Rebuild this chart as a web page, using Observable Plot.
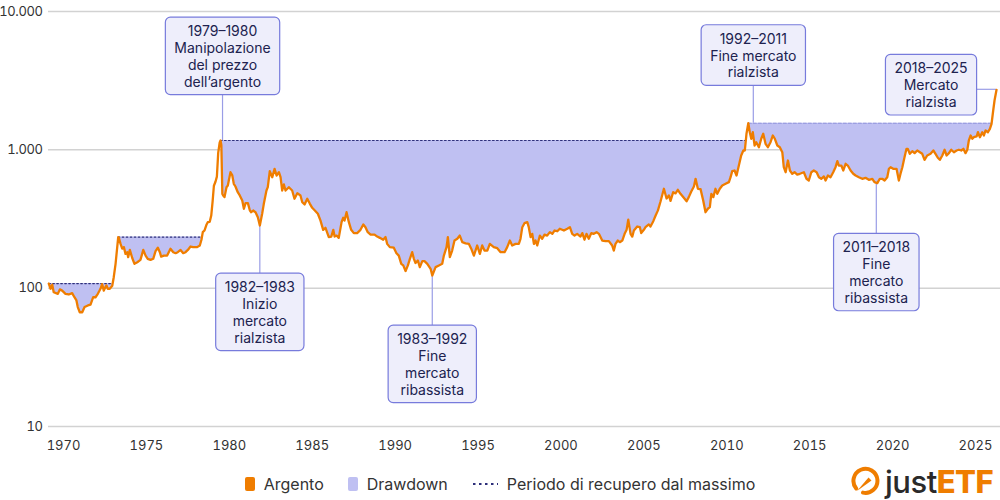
<!DOCTYPE html>
<html>
<head>
<meta charset="utf-8">
<script src="https://cdn.jsdelivr.net/npm/d3@7"></script>
<script src="https://cdn.jsdelivr.net/npm/@observablehq/plot@0.6"></script>
<style>
  body { margin: 0; background: #fff; font-family: Inter, "Noto Sans", sans-serif; }
  #chart { position: relative; width: 1000px; height: 500px; overflow: hidden; }
  #chart svg { display: block; }
  #chart svg g[aria-label="y-axis tick label"] text { letter-spacing: -0.4px; }
  .legend { position: absolute; left: 0; top: 473px; width: 1000px; height: 22px;
            display: flex; justify-content: center; align-items: center; gap: 24px;
            font-size: 16px; color: #333; }
  .legend .item { display: flex; align-items: center; gap: 9px; }
  .legend .sw { display: inline-block; width: 10px; height: 14px; border-radius: 2px; }
  .logo { position: absolute; left: 851px; top: 464px; display: flex; align-items: center; gap: 4px; }
  .logo .word { font-size: 31px; letter-spacing: -0.5px; line-height: 1; }
  .logo .just { color: #2a2a2a; font-weight: 500; }
  .logo .etf { color: #ef7d00; font-weight: 800; }
</style>
</head>
<body>
<div id="chart">
  <div class="legend">
    <span class="item"><i class="sw" style="background:#ef7d00"></i>Argento</span>
    <span class="item"><i class="sw" style="background:#bfc0f2"></i>Drawdown</span>
    <span class="item"><svg width="26" height="4"><line x1="1" y1="2" x2="26" y2="2" stroke="#2d2f7a" stroke-width="2" stroke-dasharray="2.5,3.5"/></svg>Periodo di recupero dal massimo</span>
  </div>
  <div class="logo">
    <svg width="30" height="34" viewBox="0 0 30 34">
      <path d="M5.2 24.5 A12 12 0 1 1 12 28.6" fill="none" stroke="#ef7d00" stroke-width="4" stroke-linecap="round"/>
      <path d="M17.5 13.5 L20.5 16.5 L6 27 Z" fill="#ef7d00"/>
    </svg>
    <span class="word"><span class="just">just</span><span class="etf">ETF</span></span>
  </div>
</div>
<script>
// Silver price index (start = ~100), time in decimal years
const years = [
  1969.11,1969.22,1969.32,1969.41,1969.66,1969.78,1969.92,1970.12,1970.32,1970.52,1970.66,1970.78,1970.86,1970.98,
  1971.13,1971.27,1971.47,1971.63,1971.79,1971.93,1972.07,1972.23,1972.33,1972.43,1972.53,1972.59,1972.67,1972.79,
  1972.94,1973.03,1973.14,1973.24,1973.30,
  1973.34,1973.44,1973.54,1973.64,1973.74,1973.84,1973.90,1974.00,1974.14,1974.28,1974.45,1974.64,1974.81,1974.95,
  1975.08,1975.25,1975.41,1975.55,1975.69,1975.81,1975.89,1976.05,1976.25,1976.45,1976.62,1976.76,1976.89,1977.06,
  1977.22,1977.36,1977.50,1977.66,1977.82,1978.06,1978.22,1978.32,1978.40,1978.50,1978.63,1978.70,1978.82,1978.91,
  1978.99,1979.07,1979.17,1979.25,1979.33,1979.42,1979.47,
  1979.52,1979.58,1979.63,1979.71,1979.83,1979.91,1979.99,1980.07,1980.18,1980.27,1980.37,1980.51,1980.63,1980.78,
  1980.88,1980.98,1981.12,1981.24,1981.32,1981.44,1981.58,1981.72,1981.84,1981.98,1982.08,1982.24,1982.32,1982.44,
  1982.59,1982.73,1982.85,1982.99,1983.09,1983.19,1983.29,1983.39,1983.59,1983.79,1983.93,1984.10,1984.29,1984.40,
  1984.54,1984.70,1984.86,1985.00,1985.20,1985.34,1985.50,1985.66,1985.80,1986.00,1986.15,1986.27,1986.35,1986.47,
  1986.60,1986.77,1986.87,1986.95,1987.07,1987.21,1987.35,1987.51,1987.71,1987.91,1988.08,1988.21,1988.35,1988.52,
  1988.76,1988.92,1989.08,1989.28,1989.42,1989.52,1989.68,1989.92,1990.08,1990.22,1990.37,1990.49,1990.63,1990.77,
  1990.89,1991.03,1991.13,1991.23,1991.37,1991.49,1991.64,1991.77,1991.94,1992.14,1992.24,1992.44,1992.64,1992.84,
  1992.94,1993.10,1993.18,1993.30,1993.44,1993.58,1993.75,1993.90,1994.05,1994.25,1994.45,1994.59,1994.75,1994.95,
  1995.11,1995.25,1995.39,1995.56,1995.71,1995.95,1996.16,1996.36,1996.60,1996.76,1996.92,1997.06,1997.26,1997.46,
  1997.56,1997.67,1997.80,1997.97,1998.06,1998.17,1998.27,1998.37,1998.47,1998.57,1998.73,1998.87,1999.01,1999.17,
  1999.33,1999.48,1999.61,1999.78,1999.93,2000.18,2000.38,2000.54,2000.68,2000.82,2000.98,2001.18,2001.29,2001.42,
  2001.54,2001.68,2001.83,2001.98,2002.15,2002.29,2002.49,2002.69,2002.89,2003.09,2003.19,2003.29,2003.43,2003.55,
  2003.70,2003.84,2003.96,2004.06,2004.20,2004.30,2004.40,2004.60,2004.76,2004.84,2005.00,2005.10,2005.30,2005.40,
  2005.57,2005.71,2005.85,2006.01,2006.21,2006.37,2006.51,2006.61,2006.77,2006.91,2007.05,2007.21,2007.41,2007.58,
  2007.71,2007.86,2008.02,2008.12,2008.26,2008.42,2008.58,2008.72,2008.86,2008.98,2009.07,2009.19,2009.32,2009.43,
  2009.58,2009.73,2009.93,2010.13,2010.23,2010.33,2010.47,2010.59,2010.73,2010.87,2011.00,2011.09,2011.19,2011.30,
  2011.39,2011.48,2011.57,2011.68,2011.78,2011.94,2012.08,2012.20,2012.34,2012.48,2012.64,2012.78,2012.90,2013.05,
  2013.20,2013.35,2013.44,2013.55,2013.69,2013.81,2013.95,2014.09,2014.25,2014.41,2014.65,2014.81,2014.95,2015.10,
  2015.25,2015.42,2015.56,2015.70,2015.86,2015.96,2016.10,2016.26,2016.42,2016.56,2016.67,2016.76,2016.91,2017.03,
  2017.17,2017.30,2017.47,2017.63,2017.77,2017.97,2018.17,2018.37,2018.57,2018.78,2018.91,2019.08,2019.23,2019.38,
  2019.52,2019.68,2019.78,2019.88,2020.04,2020.24,2020.38,2020.48,2020.59,2020.72,2020.84,2020.92,2021.04,2021.19,
  2021.33,2021.49,2021.65,2021.79,2021.93,2022.09,2022.29,2022.46,2022.59,2022.73,2022.85,2023.00,2023.14,2023.26,
  2023.40,2023.54,2023.70,2023.86,2024.00,2024.14,2024.27,2024.40,2024.51,2024.60,2024.71,2024.81,2024.90,2025.07,
  2025.15,2025.27,2025.41,2025.51,2025.61,2025.75,2025.87,2025.97,2026.07,2026.15,2026.27
];
const prices = [
  108,99,106,93.5,91,98,96,91,90,92,86,81.5,73,67,
  67,73,75,76,86,86,91,99,107,96,102,104.5,99,99,
  104,120,150,198,234,
  231,209,193,198,177,182,167.5,189,166,150,154,160,189,172,
  163,160,163,185,196,182,169,172,172,193,182,179,182,189,
  179,182,189,200,198,198,203.5,224,254,261,289,300,302,335,
  420,550,590,640,950,1130,1168,
  1080,480,468,455,537,552,618,689,653,568,543,494,468,430,
  375,412,412,364,354,364,354,326,284,345,407,508,537,701,
  634,729,652,689,634,508,562,508,537,508,443,486,468,418,
  403,443,407,381,360,345,308,264,273,234,236,264,236,240,
  231,300,323,308,354,300,264,250,250,264,289,276,254,244,
  244,236,231,224,234,209,198,196,179,172,150,146,133,146,
  163,182,163,152,158.5,142,157,157,150,138,123.5,142,146,150,
  172,198,234,167.5,187,221,227.5,240,215,211,209,193,172,203.5,
  177,203.5,187,187,209,198,194.5,182,182,198,221,203.5,209,209,
  227.5,276,295,300,276,234,247,209,221,203.5,240,227.5,244,240,
  254,247,261,258,269,261,269,276,247,240,247,236,250,224,
  247,227.5,250,247,254,247,221,219,219,203.5,187,209,221,215,
  221,247,264,313,247,236,261,279,276,250,264,276,289,279,
  305,335,365,425,523,445,468,428,494,484,514,481,450,425,
  455,500,543,617.5,523,520,430,354,375,385,481,455,523,481,
  523,552,568,584,634,701,709,652.5,770,910,989,989,1306,1558,
  1341,1202,1341,1075,1136,1045,1202,1306,1106,1045,1136,1270,1202,1075,
  1045,961,749,689,837,709,671,689,663,671,689,617.5,600,689,
  709,689,634,617.5,642,600,652.5,634,689,749,828,770,770,709,
  793,770,709,671,652.5,634,617.5,628,607,617.5,584,574,617.5,617.5,
  600,634,729,749,729,729,600,671,749,885,1017,1017,936,978,
  946,989,961,936,847,910,936,989,936,876,847,910,1001,910,
  946,1001,961,989,1001,989,1017,946,1001,1168,1270,1202,1234,1249,
  1341,1234,1341,1270,1380,1341,1419,1543,1925,2273,2716
];

const yearTicks = [1970, 1975, 1980, 1985, 1990, 1995, 2000, 2005, 2010, 2015, 2020, 2025];
const valueTicks = [10, 100, 1000, 10000];

// Annotated episodes: the year each note points at, and its text
const noteYears = [1979.47, 1981.84, 1992.24, 2011.30, 2019.08, 2026.27];
const noteTexts = [
  "1979–1980\nManipolazione\ndel prezzo\ndell’argento",
  "1982–1983\nInizio\nmercato\nrialzista",
  "1983–1992\nFine\nmercato\nribassista",
  "1992–2011\nFine mercato\nrialzista",
  "2011–2018\nFine\nmercato\nribassista",
  "2018–2025\nMercato\nrialzista"
];

// ---- derived series ----
const rows = years.map((x, i) => ({x, v: prices[i]}));

// Drawdown band (between price and running peak) and the running-peak
// segments shown while the price is below its previous high.
const band = [];
const recovery = [];
let peak = rows[0].v, peakX = rows[0].x, seg = -1, open = false;
band.push({x: rows[0].x, lo: peak, hi: peak});
for (let i = 1; i < rows.length; i++) {
  const {x, v} = rows[i];
  if (v >= peak) {
    if (open) {
      const p = rows[i - 1];
      const t = (Math.log(peak) - Math.log(p.v)) / (Math.log(v) - Math.log(p.v));
      const xc = p.x + t * (x - p.x);
      band.push({x: xc, lo: peak, hi: peak});
      recovery.push({x: xc, y: peak, seg});
      open = false;
    }
    peak = v; peakX = x;
    band.push({x, lo: v, hi: v});
  } else {
    if (!open) { seg++; open = true; recovery.push({x: peakX, y: peak, seg}); }
    band.push({x, lo: v, hi: peak});
    recovery.push({x, y: peak, seg});
  }
}
const lastSeg = seg;

const notes = noteYears.map((x, i) => ({x, y: prices[years.indexOf(x)], label: noteTexts[i]}));
// text offsets (px) of each note box relative to the point it refers to
const noteOffsets = [[2, -84.5], [0, 86.5], [0, 88.5], [5, -68], [-1, 89], [-65.5, -5]];

const itLocale = d3.formatLocale({decimal: ",", thousands: ".", grouping: [3], currency: ["", " €"]});
const fmtValue = itLocale.format(",d");

const ink = "#20224f";

const chart = Plot.plot({
  width: 1000,
  height: 460,
  marginLeft: 48,
  marginRight: 0,
  marginTop: 11,
  marginBottom: 34,
  style: {fontFamily: "Inter, 'Noto Sans', sans-serif", fontSize: "13px", color: "#333", background: "#fff"},
  x: {domain: [1969.095, 2026.51], ticks: yearTicks, tickFormat: d3.format("d"), tickSize: 0, tickPadding: 14, label: null},
  y: {type: "log", domain: [10, 10000], ticks: valueTicks, tickFormat: fmtValue, tickSize: 0, tickPadding: 6, label: null},
  marks: [
    Plot.ruleY(valueTicks, {stroke: "#d2d2d2", strokeWidth: 1.5}),
    Plot.areaY(band, {x: "x", y1: "lo", y2: "hi", fill: "#bfc0f2"}),
    Plot.line(recovery.filter(d => d.seg < lastSeg), {x: "x", y: "y", z: "seg", stroke: "#2d2f7a", strokeWidth: 1.2, strokeDasharray: "1.6,2.4"}),
    Plot.line(recovery.filter(d => d.seg === lastSeg), {x: "x", y: "y", z: "seg", stroke: "#9194dc", strokeWidth: 1.1, strokeDasharray: "3,2"}),
    Plot.line(rows, {x: "x", y: "v", stroke: "#ef7d00", strokeWidth: 2.3, strokeLinejoin: "round", className: "series"}),
    ...notes.map((n, i) => Plot.text([n], {
      x: "x", y: "y", text: "label",
      dx: noteOffsets[i][0], dy: noteOffsets[i][1],
      fill: ink, fontSize: 14, lineHeight: 1.2,
      textAnchor: "middle", lineAnchor: "middle",
      className: "note"
    }))
  ]
});

const host = document.getElementById("chart");
host.insertBefore(chart, host.firstChild);

// Boxes around the notes and the leader lines to the points they describe
const xs = chart.scale("x"), ys = chart.scale("y");
const frame = chart.getBoundingClientRect();
const svg = d3.select(chart);
const leaders = svg.insert("g", "g.series").attr("class", "leaders");
const padX = 9, padY = 5;
svg.selectAll("g.note").each(function (_, i) {
  const text = this.querySelector("text");
  const bb = text.getBBox();
  const rect = d3.select(this).insert("rect", "text")
    .attr("transform", text.getAttribute("transform"))
    .attr("x", bb.x - padX).attr("y", bb.y - padY)
    .attr("width", bb.width + 2 * padX).attr("height", bb.height + 2 * padY)
    .attr("rx", 5).attr("fill", "#eeeefb").attr("stroke", "#777bdc").attr("stroke-width", 1.2);
  const r = rect.node().getBoundingClientRect();
  const left = r.left - frame.left, right = r.right - frame.left;
  const top = r.top - frame.top, bottom = r.bottom - frame.top;
  const n = notes[i];
  const px = xs.apply(n.x), py = ys.apply(n.y);
  let seg;
  if (px > right) seg = [right, py, px, py];
  else {
    const cx = (left + right) / 2;
    seg = top > py ? [cx, py, cx, top] : [cx, bottom, cx, py];
  }
  leaders.append("line")
    .attr("x1", seg[0]).attr("y1", seg[1]).attr("x2", seg[2]).attr("y2", seg[3])
    .attr("stroke", "#9a9de6").attr("stroke-width", 1.2);
});
</script>
</body>
</html>
